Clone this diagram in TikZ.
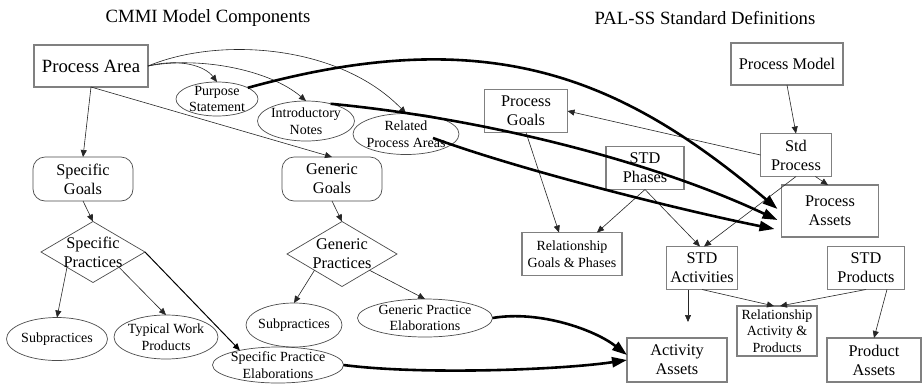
\documentclass[tikz,border=0pt]{standalone}
\usepackage{fontspec}
\setmainfont{Liberation Serif}
\usetikzlibrary{shapes.geometric,arrows.meta}

\tikzset{
  every node/.style={inner sep=0pt, outer sep=0pt},
  heading/.style={font=\fontsize{18.7}{21}\selectfont},
  areabox/.style={rectangle, draw=black!50, line width=1.1pt, font=\fontsize{18.7}{21}\selectfont},
  defbox/.style={rectangle, draw=black!50, line width=1.1pt, align=center, font=\fontsize{16.3}{19}\selectfont},
  relbox/.style={defbox, font=\fontsize{14}{16.7}\selectfont},
  goalbox/.style={rectangle, rounded corners=12pt, draw=black!70, line width=0.7pt, align=center, font=\fontsize{16.3}{19}\selectfont},
  oval/.style={ellipse, draw=black!70, line width=0.7pt},
  rhomb/.style={diamond, draw=black!70, line width=0.7pt},
  ovaltext/.style={align=center, font=\fontsize{14}{16.7}\selectfont},
  rhombtext/.style={align=center, font=\fontsize{16.3}{19}\selectfont},
  link/.style={draw=black!85, line width=0.6pt, -{Triangle[length=7pt,width=6pt]}},
  strong link/.style={draw=black, line width=1pt, -{Triangle[length=7pt,width=6pt]}},
  asset link/.style={draw=black, line width=2.6pt, -{Triangle[length=15pt,width=10pt]}},
}

\begin{document}
\begin{tikzpicture}[x=1pt, y=-1pt]
  \fill[white] (0,0) rectangle (922,384);
  \useasboundingbox (0,0) rectangle (922,384);

  % column headings
  \node[heading] (h1) at (208,18) {CMMI Model Components};
  \node[heading] (h2) at (705,18) {PAL-SS Standard Definitions};

  % CMMI model components
  \node[areabox, minimum width=114pt, minimum height=42pt] (pa) at (91,66) {Process Area};
  \node[oval, minimum width=82pt, minimum height=34pt,
        label={[ovaltext]center:{Purpose\\Statement}}] (ps) at (217,99) {};
  \node[oval, minimum width=97pt, minimum height=40pt,
        label={[ovaltext]center:{Introductory\\Notes}}] (in) at (306,121) {};
  \node[oval, minimum width=106pt, minimum height=41pt,
        label={[ovaltext]center:{Related\\Process Areas}}] (rpa) at (406,134) {};

  \node[goalbox, minimum width=100pt, minimum height=44pt] (sg) at (83,179) {Specific\\Goals};
  \node[goalbox, minimum width=100pt, minimum height=44pt] (gg) at (332,179) {Generic\\Goals};

  \node[rhomb, minimum width=104pt, minimum height=61pt,
        label={[rhombtext]center:{Specific\\Practices}}] (sp) at (93,252) {};
  \node[rhomb, minimum width=110pt, minimum height=65pt,
        label={[rhombtext]center:{Generic\\Practices}}] (gp) at (342,254) {};

  \node[oval, minimum width=101pt, minimum height=43pt,
        label={[ovaltext]center:{Subpractices}}] (sub1) at (57,339) {};
  \node[oval, minimum width=104pt, minimum height=44pt,
        label={[ovaltext]center:{Typical Work\\Products}}] (twp) at (166,337) {};
  \node[oval, minimum width=131pt, minimum height=36pt,
        label={[ovaltext]center:{Specific Practice\\Elaborations}}] (spe) at (278,365) {};
  \node[oval, minimum width=96pt, minimum height=44pt,
        label={[ovaltext]center:{Subpractices}}] (sub2) at (294,325) {};
  \node[oval, minimum width=135pt, minimum height=38pt,
        label={[ovaltext]center:{Generic Practice\\Elaborations}}] (gpe) at (425,318) {};

  % PAL-SS standard definitions
  \node[defbox, minimum width=112pt, minimum height=42pt] (pm) at (787,64) {Process Model};
  \node[defbox, minimum width=83pt, minimum height=43pt] (pg) at (526,111) {Process\\Goals};
  \node[defbox, minimum width=71pt, minimum height=43pt] (stdp) at (796,155) {Std\\Process};
  \node[defbox, minimum width=78pt, minimum height=43pt] (ph) at (645,168) {STD\\Phases};
  \node[defbox, minimum width=97pt, minimum height=52pt] (pass) at (830,211) {Process\\Assets};
  \node[relbox, minimum width=100pt, minimum height=43pt] (rgp) at (572,254) {Relationship\\Goals \& Phases};
  \node[defbox, minimum width=71pt, minimum height=43pt] (act) at (702,268) {STD\\Activities};
  \node[defbox, minimum width=77pt, minimum height=43pt] (prod) at (866,268) {STD\\Products};
  \node[relbox, minimum width=80pt, minimum height=50pt] (rap) at (777,331) {Relationship\\Activity \&\\Products};
  \node[defbox, minimum width=100pt, minimum height=44pt] (aa) at (677,360) {Activity\\Assets};
  \node[defbox, minimum width=94pt, minimum height=44pt] (pra) at (874,360) {Product\\Assets};

  % component structure
  \draw[link] (pa.east) .. controls (180,58) and (205,66) .. (ps.north);
  \draw[link] (pa.east) .. controls (200,56) and (270,70) .. (in.north);
  \draw[link] (pa.east) .. controls (220,36) and (340,45) .. (rpa.north);
  \draw[link] (pa.south) -- (sg.north);
  \draw[link] (pa.south) -- (gg.north);
  \draw[link] (sg.south) -- (sp.north);
  \draw[link] (gg.south) -- (gp.north);
  \draw[link] (sp.south west) -- (sub1.north);
  \draw[link] (sp.south east) -- (twp.north);
  \draw[strong link] (sp.east) -- (spe.159);
  \draw[link] (gp.south west) -- (sub2.north);
  \draw[link] (gp.south east) -- (gpe.north);

  % standard definitions structure
  \draw[link] (pm.south) -- (stdp.north);
  \draw[link] (stdp.west) -- (pg.east);
  \draw[link] (stdp.-48) -- ([xshift=-2pt]pass.north);
  \draw[link] (stdp.south) -- ([xshift=2pt]act.north);
  \draw[link] (ph.south) -- ([xshift=25pt]rgp.north);
  \draw[link] (ph.south) -- ([xshift=-2pt]act.north);
  \draw[link] (pg.south) -- ([xshift=-13pt]rgp.north);
  \draw[link] ([xshift=-14pt]act.south) -- ([xshift=11pt,yshift=16pt]aa.north);
  \draw[link] (act.south) -- ([xshift=-3pt]rap.north);
  \draw[link] (prod.south) -- ([xshift=3pt]rap.north);
  \draw[link] ([xshift=21pt]prod.south) -- (pra.north);

  % mapping of components onto assets
  \draw[asset link] (ps.20) .. controls (493,20) and (624,80) .. ([xshift=-4pt,yshift=2pt]pass.west);
  \draw[asset link] (in.35) .. controls (480,118) and (650,160) .. ([xshift=-4pt,yshift=-9pt]pass.west);
  \draw[asset link] ([xshift=27pt,yshift=-4pt]rpa.center) .. controls (520,170) and (680,210) .. ([xshift=-7pt,yshift=-18pt]pass.west);
  \draw[asset link] (gpe.east) .. controls (540,310) and (595,330) .. ([yshift=5pt]aa.west);
  \draw[asset link] (spe.east) .. controls (420,375) and (560,370) .. (aa.west);
\end{tikzpicture}
\end{document}
